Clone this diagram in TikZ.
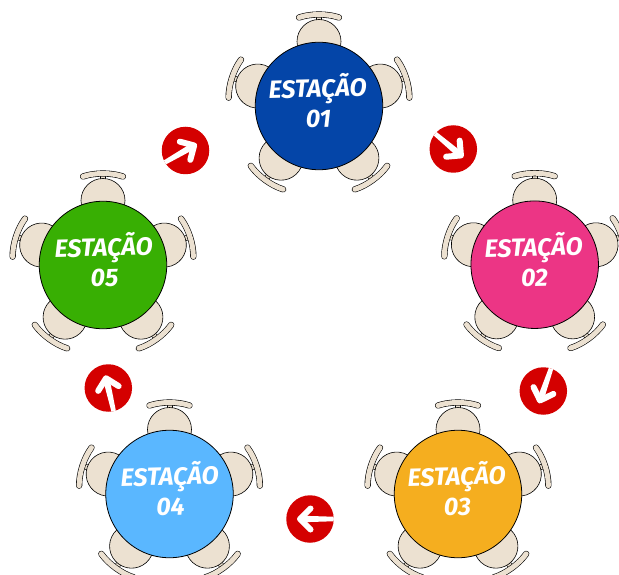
\documentclass[tikz,border=0pt]{standalone}
\usepackage{fontspec}
\setmainfont{Fira Sans}
\definecolor{seat}{HTML}{ECE1D1}
\definecolor{arrowred}{HTML}{D40000}
\definecolor{t1}{HTML}{0445A8}
\definecolor{t2}{HTML}{EC3585}
\definecolor{t3}{HTML}{F5AE1F}
\definecolor{t4}{HTML}{5AB7FF}
\definecolor{t5}{HTML}{38AF03}
\tikzset{
  tablecircle/.style={circle,draw=black,line width=0.8pt,minimum size=127.5pt,inner sep=0pt},
  tabletext/.style={text=white,font=\fontsize{25}{30}\selectfont\bfseries\itshape,align=center,inner sep=0pt,rotate=1.5},
  seatdisc/.style={draw=black,fill=seat,line width=0.6pt},
  badge/.style={circle,fill=arrowred,minimum size=47.5pt,inner sep=0pt},
}
\newcommand{\chairset}[2]{%
  \foreach \a in {0,72,144,216,288}{%
    \begin{scope}[shift={(#1,#2)},rotate=-\a]
      \fill[seat,draw=black,line width=0.5pt] (-2.5,-90) rectangle (2.5,-84);
      \draw[seatdisc] (0,-64.5) circle (22);
      \draw[black,line width=6.2pt,line cap=round] (-20,-88.5) .. controls (-8,-92.5) and (8,-92.5) .. (20,-88.5);
      \draw[seat,line width=5pt,line cap=round] (-20,-88.5) .. controls (-8,-92.5) and (8,-92.5) .. (20,-88.5);
    \end{scope}}}
\newcommand{\arrowbadge}[4]{%
  \node[badge] (#1) at (#2,#3) {};
  \begin{scope}
    \clip (#2,#3) circle (23.8);
    \begin{scope}[shift={(#2,#3)},rotate=-#4]
      \fill[white] (-26,-2.2) -- (6,-3.2) -- (6,3.2) -- (-26,2.2) -- cycle;
      \draw[white,line width=6pt,line cap=round,line join=round] (-0.5,-10.5) -- (10,0) -- (-0.5,10.5);
    \end{scope}
  \end{scope}}
\begin{document}
\begin{tikzpicture}[x=1pt,y=-1pt]
\useasboundingbox (0,0) rectangle (619,575);
\chairset{319}{106}
\chairset{534.7}{264.7}
\chairset{458}{494}
\chairset{169.5}{494}
\chairset{103}{265}
\node[tablecircle,fill=t1] (table1) at (319,106) {};
\node[tablecircle,fill=t2] (table2) at (534.7,264.7) {};
\node[tablecircle,fill=t3] (table3) at (458,494) {};
\node[tablecircle,fill=t4] (table4) at (169.5,494) {};
\node[tablecircle,fill=t5] (table5) at (103,265) {};
\node[tabletext] (label1) at (318,101) {ESTAÇÃO\\01};
\node[tabletext] (label2) at (534,260) {ESTAÇÃO\\02};
\node[tabletext] (label3) at (457,489) {ESTAÇÃO\\03};
\node[tabletext] (label4) at (170,489) {ESTAÇÃO\\04};
\node[tabletext] (label5) at (104,260) {ESTAÇÃO\\05};
\arrowbadge{a12}{453.3}{149}{40}
\arrowbadge{a23}{543.3}{391}{109}
\arrowbadge{a34}{310}{519}{180}
\arrowbadge{a45}{108.3}{388}{257}
\arrowbadge{a51}{185.5}{150.5}{330}
\end{tikzpicture}
\end{document}
